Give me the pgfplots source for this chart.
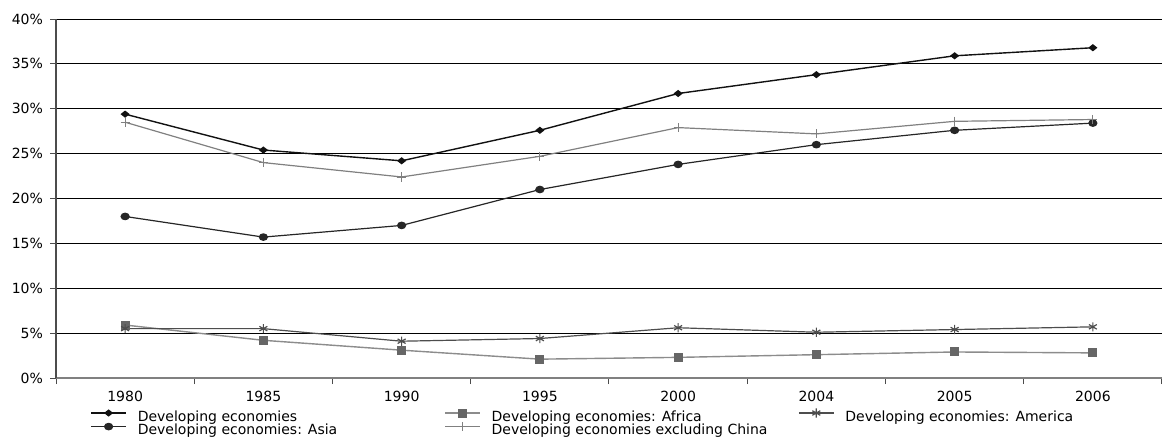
\documentclass[border=0pt]{standalone}
\usepackage{fontspec}
\setmainfont{DejaVu Sans}
\usepackage{pgfplots}
\pgfplotsset{compat=1.18}

\definecolor{cDE}{HTML}{111111}
\definecolor{cAsia}{HTML}{262626}
\definecolor{cChina}{HTML}{808080}
\definecolor{cAfrLine}{HTML}{8C8C8C}
\definecolor{cAfrMark}{HTML}{666666}
\definecolor{cAmer}{HTML}{4D4D4D}

\newcommand{\lt}[1]{\makebox[153.25pt][l]{#1}}

\begin{document}
\begin{tikzpicture}
\useasboundingbox (0,0) rectangle (581pt,218pt);
\begin{axis}[
    at={(28pt,29pt)}, anchor=south west,
    scale only axis, width=553pt, height=179.5pt,
    xmin=-0.5, xmax=7.5, ymin=0, ymax=40,
    axis x line*=bottom, axis y line*=left,
    x axis line style={gray, line width=0.6pt, -},
    y axis line style={black!70, line width=0.6pt, -},
    xtick={-0.5,0.5,...,7.5},
    x tick label as interval,
    xticklabels={1980,1985,1990,1995,2000,2004,2005,2006},
    ytick={0,5,...,40},
    yticklabel={\pgfmathprintnumber{\tick}\%},
    ymajorgrids, grid style={black, line width=0.5pt},
    tick align=outside, major tick length=3pt,
    tick style={black!70, line width=0.5pt},
    ticklabel style={font=\fontsize{7}{8}\selectfont},
    /pgf/number format/assume math mode=true,
    legend columns=3,
    legend style={at={(0,0)}, anchor=north west, xshift=17pt, yshift=-15pt,
        draw=none, fill=none, inner sep=0pt,
        font=\fontsize{7}{8}\selectfont,
        nodes={inner sep=0pt, text height=5pt, text depth=1pt},
        row sep=-0.5pt,
        /tikz/every odd column/.append style={column sep=5.5pt}},
    legend image code/.code={\draw[mark repeat=2, mark phase=2, #1]
        plot coordinates {(0pt,2pt) (8.75pt,2pt) (17.5pt,2pt)};},
]

% Developing economies
\addplot[cDE, line width=0.7pt, mark=diamond*, mark size=1.6pt,
    mark options={solid, fill=cDE, xscale=1.45, yscale=0.85}] coordinates {
    (0,29.4) (1,25.4) (2,24.2) (3,27.6) (4,31.7) (5,33.8) (6,35.9) (7,36.8)
};
\addlegendentry{\lt{Developing economies}}

% Africa
\addplot[cAfrLine, line width=0.7pt, mark=square*, mark size=1.9pt,
    mark options={solid, draw=cAfrMark, fill=cAfrMark}] coordinates {
    (0,5.9) (1,4.2) (2,3.1) (3,2.1) (4,2.3) (5,2.6) (6,2.9) (7,2.8)
};
\addlegendentry{\lt{Developing economies: Africa}}

% America
\addplot[cAmer, line width=0.6pt, mark=asterisk, mark size=2.3pt,
    mark options={solid}] coordinates {
    (0,5.5) (1,5.5) (2,4.1) (3,4.4) (4,5.6) (5,5.1) (6,5.4) (7,5.7)
};
\addlegendentry{\lt{Developing economies: America}}

% Asia
\addplot[cAsia, line width=0.6pt, mark=*, mark size=2pt,
    mark options={solid, fill=cAsia, yscale=0.8}] coordinates {
    (0,18.0) (1,15.7) (2,17.0) (3,21.0) (4,23.8) (5,26.0) (6,27.6) (7,28.4)
};
\addlegendentry{\lt{Developing economies: Asia}}

% excluding China
\addplot[cChina, line width=0.6pt, mark=+, mark size=2.3pt,
    mark options={solid}] coordinates {
    (0,28.5) (1,24.0) (2,22.4) (3,24.7) (4,27.9) (5,27.2) (6,28.6) (7,28.8)
};
\addlegendentry{\lt{Developing economies excluding China}}

\end{axis}
\end{tikzpicture}
\end{document}
